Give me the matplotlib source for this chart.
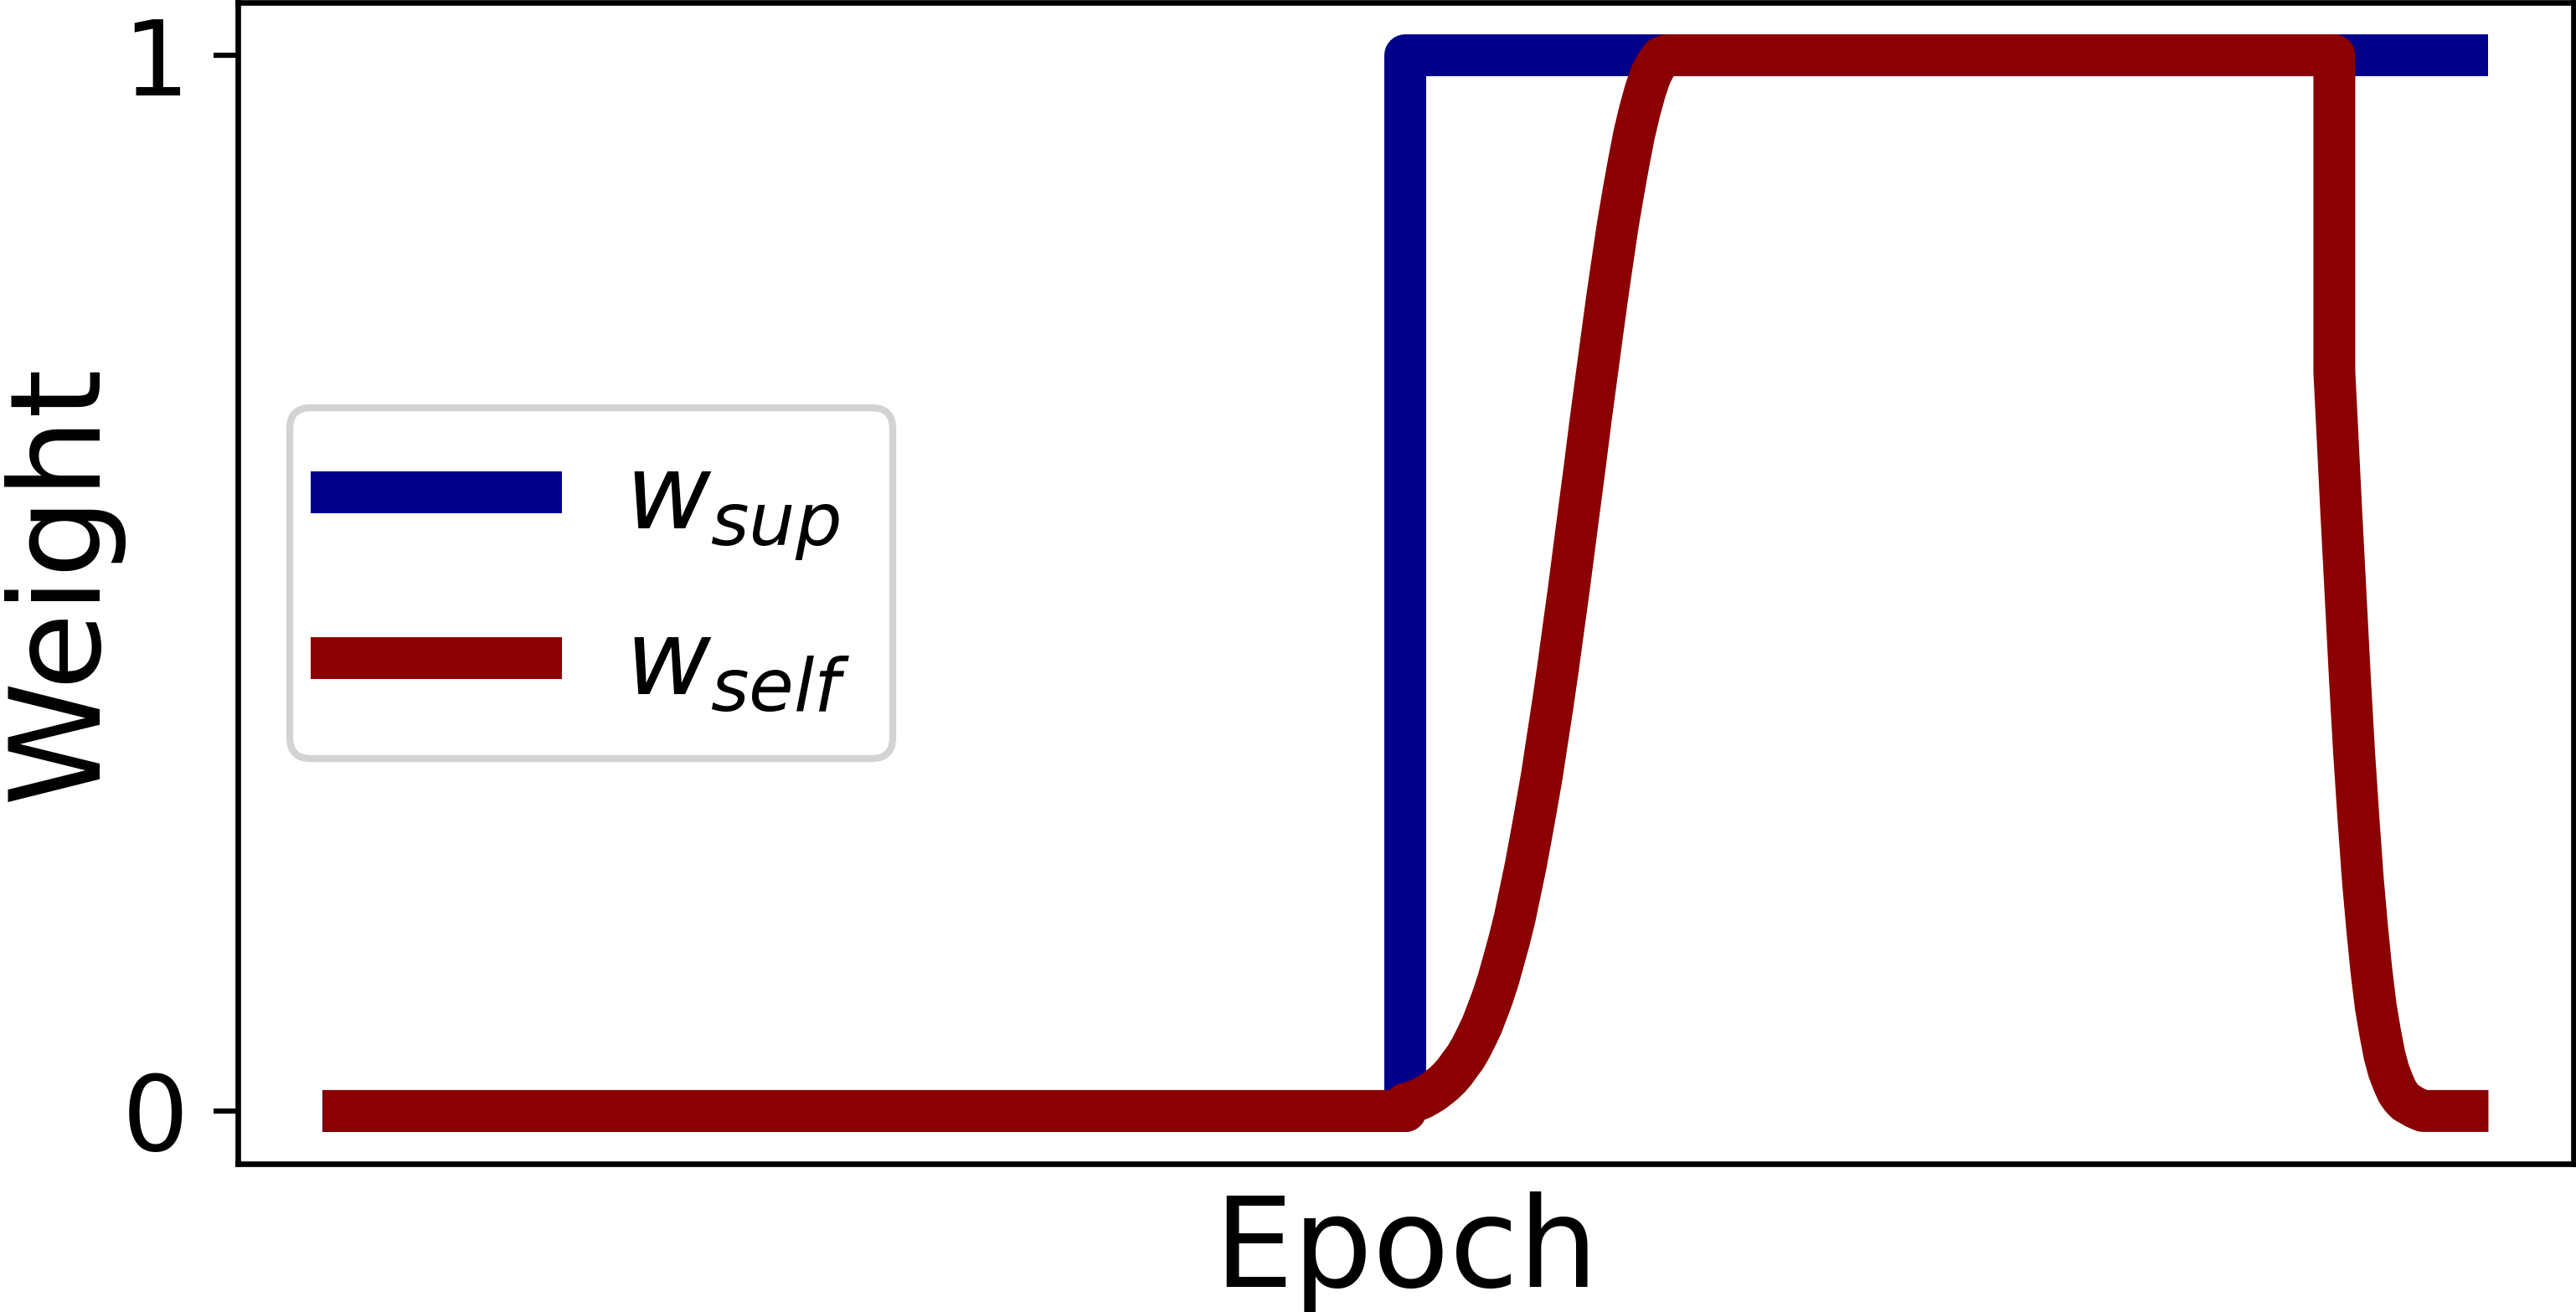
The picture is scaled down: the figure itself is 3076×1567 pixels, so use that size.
import matplotlib
matplotlib.use('Agg')
import matplotlib.pyplot as plt

# weight schedules
blue_epoch = [0, 50, 50, 100]
blue_weight = [0, 0, 1, 1]

# w_self: zero, ramp up, hold, cut to 0.7 and ramp down
red_epoch = [0, 50,
             50.00, 50.26, 50.51, 50.77, 51.03, 51.28, 51.54, 51.79, 52.05,
             52.31, 52.56, 52.82, 53.08, 53.33, 53.59, 53.84, 54.10, 54.36,
             54.61, 54.87, 55.13, 55.38, 55.64, 55.89, 56.15, 56.41, 56.66,
             56.92, 57.18, 57.43, 57.69, 57.94, 58.20, 58.46, 58.71, 58.97,
             59.23, 59.48, 59.74, 59.99, 60.25, 60.51, 60.76, 61.02, 61.28,
             61.53, 61.79, 62.04, 62.30,
             93.73, 93.73, 93.85, 94.05, 94.26, 94.46, 94.66, 94.87, 95.07,
             95.28, 95.48, 95.68, 95.89, 96.09, 96.29, 96.50, 96.70, 96.91,
             97.11, 97.21, 97.55, 97.9, 100]
red_weight = [0, 0,
              0.007, 0.008, 0.010, 0.012, 0.015, 0.018, 0.022, 0.026, 0.031,
              0.037, 0.044, 0.051, 0.060, 0.070, 0.081, 0.094, 0.108, 0.124,
              0.142, 0.161, 0.182, 0.206, 0.231, 0.258, 0.287, 0.317, 0.350,
              0.384, 0.420, 0.457, 0.495, 0.534, 0.574, 0.614, 0.654, 0.693,
              0.732, 0.769, 0.805, 0.839, 0.870, 0.899, 0.925, 0.947, 0.966,
              0.981, 0.991, 0.998, 1.0,
              1.0, 0.70, 0.652, 0.570, 0.489, 0.411, 0.340, 0.276, 0.220,
              0.172, 0.132, 0.099, 0.074, 0.053, 0.038, 0.027, 0.018, 0.012,
              0.008, 0.007, 0.003, 0.0, 0.0]

labels = [r'$w_{sup}$', r'$w_{self}$']
ytick_values = [0, 1]

fig = plt.figure(figsize=(3076 / 300, 1567 / 300), dpi=300)
ax = fig.add_axes([0.0922, 0.1130, 0.9069, 0.8851])

ax.plot(blue_epoch, blue_weight, color='darkblue', lw=12, label=labels[0])
ax.plot(red_epoch, red_weight, color='darkred', lw=12, label=labels[1])

ax.set_xticks([])
ax.set_yticks(ytick_values)
ax.set_yticklabels([str(v) for v in ytick_values])
ax.tick_params(axis='y', labelsize=30, length=7, width=1.5, pad=7)
for sp in ax.spines.values():
    sp.set_linewidth(1.6)

ax.set_xlabel('Epoch', fontsize=36, labelpad=8)
ax.set_ylabel('Weight', fontsize=36, labelpad=0)

leg = ax.legend(loc='center left', fontsize=30, fancybox=True,
                framealpha=1, edgecolor='lightgray')
leg.get_frame().set_linewidth(2)

fig.savefig('out.png', dpi=300)
